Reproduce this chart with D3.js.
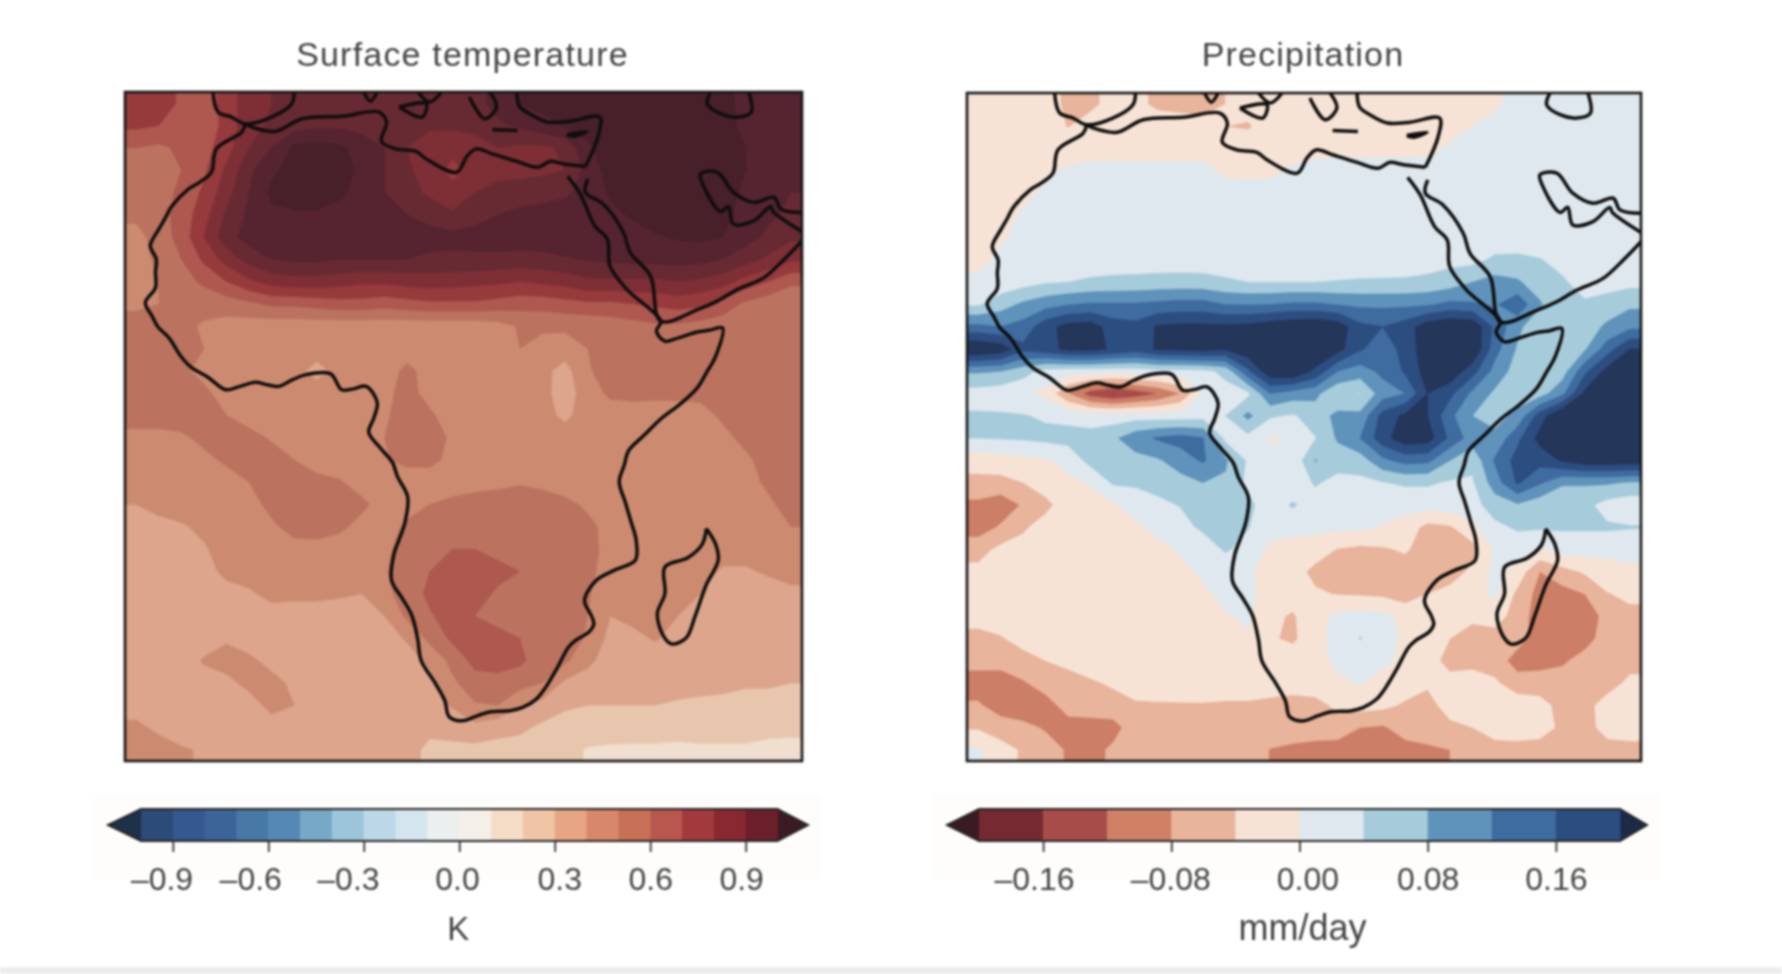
<!DOCTYPE html>
<html><head><meta charset="utf-8">
<script src="https://cdn.jsdelivr.net/npm/d3@7/dist/d3.min.js"></script>
<style>html,body{margin:0;background:#fff}svg{display:block;filter:blur(.8px)}
text{font-family:"Liberation Sans",Arial,sans-serif;fill:#444}</style></head><body>
<svg id="c" width="1782" height="974"></svg>
<script>
const titles=["Surface temperature","Precipitation"];
const units=["K","mm/day"];
// Surface temperature anomaly, hundredths of K, 30x30 grid, north to south
const tempField=[
[78,76,68,62,76,84,90,94,95,95,95,95,95,95,95,96,104,111,113,113,113,113,113,113,113,113,112,108,108,108],
[72,70,66,62,74,86,92,96,98,98,96,94,92,92,92,94,98,102,106,111,114,114,114,114,114,114,113,108,106,106],
[60,58,62,66,76,90,100,112,114,112,106,100,90,84,82,84,90,88,88,92,108,115,115,115,115,115,113,110,104,104],
[56,55,60,68,82,98,108,114,116,114,108,100,92,84,78,82,84,86,88,90,104,114,116,116,116,116,116,110,104,102],
[55,56,62,72,86,100,112,114,114,112,106,100,94,88,82,90,96,96,96,98,104,111,116,116,116,116,114,108,104,100],
[52,56,64,76,92,102,108,109,109,106,104,103,100,96,92,96,100,102,104,106,106,108,111,115,116,116,113,106,102,98],
[47,54,64,80,96,104,106,106,106,105,105,104,103,104,103,104,106,106,106,106,106,106,107,109,111,112,110,104,98,92],
[46,52,60,72,84,94,100,102,102,100,100,100,100,98,98,98,97,96,97,99,101,102,103,103,104,103,100,94,88,82],
[47,50,56,62,70,78,84,86,86,84,82,82,84,85,84,83,82,80,82,84,88,88,88,88,90,88,84,76,70,62],
[48,50,52,53,55,58,62,62,64,66,66,64,66,68,68,68,66,64,64,66,68,68,70,72,74,72,66,58,54,52],
[54,54,52,49,46,45,44,44,44,44,44,44,44,44,44,44,46,51,52,52,52,54,56,58,58,56,54,54,54,54],
[54,54,53,50,46,45,44,44,44,44,44,44,46,44,44,44,44,50,46,45,50,54,56,56,56,55,54,54,54,54],
[55,55,52,47,44,44,43,43,37,43,44,46,52,47,44,44,44,44,43,36,49,54,55,55,55,55,55,55,55,55],
[56,56,55,52,46,44,44,44,44,44,44,47,54,46,44,44,44,44,43,35,45,52,53,53,53,53,54,55,56,56],
[56,56,56,54,50,46,44,44,44,44,44,48,56,52,44,44,44,44,43,38,44,45,45,44,44,46,52,55,56,56],
[46,46,48,53,55,53,49,44,44,44,44,50,55,56,48,44,44,44,44,44,44,44,44,44,44,44,47,53,56,56],
[44,44,44,47,52,54,54,50,44,44,44,49,53,53,47,44,44,44,44,44,44,44,44,44,44,44,44,48,54,56],
[44,44,44,44,45,50,55,56,54,51,46,44,44,44,44,46,47,49,47,44,44,44,44,44,44,44,44,46,52,56],
[40,42,44,44,44,46,53,57,58,56,52,46,46,50,53,55,56,56,56,53,48,44,44,44,44,44,44,44,48,54],
[37,38,39,42,44,44,48,54,55,52,47,45,52,55,56,57,57,57,57,56,53,46,44,44,44,44,44,44,45,50],
[36,36,37,39,44,44,44,46,46,45,44,48,54,58,60,60,58,57,56,56,54,46,44,44,44,44,43,43,44,46],
[36,36,36,37,42,43,44,44,44,44,44,49,56,60,63,64,62,60,57,56,53,45,44,44,44,43,39,39,41,43],
[35,35,35,35,37,39,42,42,42,41,40,47,55,62,65,63,59,56,56,55,51,44,44,44,44,40,36,36,36,38],
[35,35,35,35,35,36,37,36,36,36,36,40,52,59,64,60,58,57,56,55,50,40,43,44,40,36,35,35,35,35],
[35,35,35,35,39,35,35,35,35,35,36,36,41,53,62,64,62,60,56,54,49,37,37,41,36,35,35,35,35,35],
[35,35,35,41,43,42,37,35,35,35,35,35,36,42,53,63,65,62,55,52,42,36,35,35,35,35,35,35,35,35],
[35,35,35,36,38,42,43,38,35,35,35,35,35,37,48,56,56,54,50,38,36,35,35,35,33,33,32,31,31,30],
[36,35,35,35,35,37,42,40,35,35,35,35,35,35,41,49,50,41,36,31,30,30,30,30,29,28,28,27,27,26],
[42,38,35,35,35,35,37,36,35,35,35,35,34,32,33,37,33,32,28,27,26,26,25,25,25,25,25,25,24,24],
[46,44,41,39,37,36,35,35,35,35,35,35,33,28,28,27,27,26,25,24,19,18,18,18,17,18,18,18,16,15]
];
// Precipitation anomaly, thousandths of mm/day
const precipField=[
[-20,-20,-20,-20,-50,-50,-25,-30,-48,-50,-50,-40,-22,-25,-15,-15,-15,-15,-15,-15,-15,-15,-12,-5,10,15,15,15,15,15],
[-20,-20,-20,-20,-42,-20,-25,-15,-20,-25,-30,-40,-45,-20,-12,-12,-12,-12,-12,-12,-12,-6,0,10,15,15,15,15,15,15],
[-20,-20,-20,-20,-15,-15,-15,-15,-15,-15,-15,-15,-12,-12,-10,-10,-10,-10,-10,-10,-8,3,15,15,15,15,15,15,15,15],
[-20,-20,-12,-6,4,12,12,12,12,12,12,-8,-10,-8,4,10,15,15,15,15,15,15,15,15,15,15,15,15,15,15],
[-20,-15,-6,5,15,15,15,15,15,15,15,15,15,15,15,15,15,15,15,15,15,15,15,15,15,15,15,15,15,15],
[-20,-10,3,15,15,15,15,15,15,15,15,15,15,15,15,15,15,15,15,15,15,15,15,15,15,15,15,15,15,15],
[-15,-3,8,15,15,15,15,15,15,15,15,15,15,15,15,15,15,15,15,15,15,15,15,15,15,15,15,15,15,15],
[-8,5,18,18,18,18,18,18,18,18,18,18,18,18,18,18,18,18,18,18,22,28,28,48,50,42,28,18,18,18],
[6,15,25,36,40,46,50,52,55,56,55,46,40,40,40,40,42,44,45,46,50,60,80,95,85,60,45,25,25,28],
[35,62,88,105,118,125,125,125,130,135,135,120,118,120,127,127,118,112,112,112,115,130,125,115,150,85,40,45,55,72],
[130,120,135,185,215,220,180,172,205,210,210,208,212,225,235,240,225,170,160,180,225,240,235,150,90,50,40,58,88,110],
[240,225,170,185,210,212,195,180,205,210,215,205,230,245,245,240,215,165,135,175,225,245,240,135,75,55,45,75,140,200],
[85,80,55,25,18,18,15,18,25,25,28,50,150,230,240,190,120,100,130,165,220,230,175,105,62,55,60,150,215,240],
[22,15,8,-10,-80,-140,-165,-145,-120,-80,8,25,30,120,100,90,45,38,100,120,200,170,110,72,60,62,110,210,240,250],
[45,45,42,35,28,20,18,22,20,20,25,40,90,45,35,60,90,90,175,210,200,130,80,65,90,180,245,250,250,250],
[40,42,45,50,55,55,72,105,125,135,122,30,28,-5,3,38,85,120,185,225,220,150,100,90,150,215,250,250,250,250],
[-25,-18,-12,-5,10,55,60,65,75,100,125,85,35,15,10,82,60,60,110,135,130,80,50,125,175,175,205,225,225,225],
[-50,-52,-40,-22,-8,2,45,48,55,65,80,75,30,12,10,45,25,30,38,45,45,35,35,100,165,125,85,85,85,75],
[-90,-105,-75,-50,-20,-10,-5,10,30,42,60,80,50,18,45,20,15,15,15,15,15,20,25,60,75,55,50,50,25,15],
[-100,-75,-45,-25,-22,-20,-15,-5,8,25,48,62,42,15,12,10,8,8,-3,-18,-52,-45,-10,30,45,45,45,45,45,42],
[-55,-30,-28,-25,-22,-22,-20,-18,-8,3,15,45,25,-10,-15,-22,-42,-50,-45,-35,-60,-65,-55,5,18,-5,15,15,15,15],
[-30,-30,-28,-28,-26,-25,-24,-20,-14,-8,5,12,10,-25,-25,-50,-60,-65,-62,-60,-70,-62,-30,10,-15,-80,-55,-35,-20,-10],
[-25,-25,-25,-25,-25,-25,-25,-25,-25,-24,-5,8,10,-18,-20,-35,-42,-45,-48,-62,-40,-25,-15,8,-50,-95,-95,-80,-42,-32],
[-28,-28,-28,-28,-27,-26,-25,-25,-25,-25,-22,-3,6,-30,-45,-12,8,15,10,-10,-25,-30,-35,-20,-60,-100,-110,-115,-60,-50],
[-50,-42,-32,-30,-28,-26,-25,-22,-22,-22,-22,-20,-5,-35,-48,-12,12,42,20,-8,-15,-40,-50,-60,-62,-100,-110,-105,-50,-45],
[-65,-62,-48,-40,-35,-32,-28,-25,-25,-24,-24,-22,-20,-20,-15,-10,5,8,5,-6,-28,-50,-50,-55,-100,-100,-90,-55,-50,-48],
[-100,-105,-85,-58,-48,-42,-38,-33,-30,-28,-26,-25,-25,-22,-18,-15,-5,2,-10,-22,-35,-30,-25,-35,-60,-55,-50,-50,-50,-35],
[-75,-100,-110,-100,-60,-50,-46,-42,-42,-42,-42,-44,-44,-50,-60,-55,-30,-25,-30,-45,-52,-25,-20,-20,-20,-30,-50,-48,-30,-22],
[-45,-60,-68,-85,-100,-105,-100,-50,-50,-50,-50,-50,-50,-50,-55,-58,-62,-80,-85,-62,-55,-48,-40,-28,-25,-30,-45,-50,-30,-25],
[5,-25,-45,-60,-85,-100,-70,-55,-50,-48,-48,-48,-52,-82,-90,-95,-95,-95,-92,-95,-88,-80,-55,-50,-50,-50,-50,-50,-50,-50]
];
const tempLevels=[0,10,20,30,40,50,60,70,80,90,100,110];
const tempLevelColors=["#f6ede4","#f0dfcf","#e8c6ae","#dca58c","#cc8b70","#bb735f","#ae5850","#963a3c","#7e2f36","#682a32","#552430","#47202a"];
const precipLevels=[-200,-160,-120,-80,-40,0,40,80,120,160,200];
const precipLevelColors=["#7b2d33","#a84c4a","#cc7e66","#e8b49b","#f6e3d6","#dfe8ee","#a6cbdb","#5f93bb","#3e6ba0","#2c4d7f","#24365a"];
const tempBarEdges=[-1,-.9,-.8,-.7,-.6,-.5,-.4,-.3,-.2,-.1,0,.1,.2,.3,.4,.5,.6,.7,.8,.9,1];
const tempBarColors=["#2d4b78","#34588f","#3c6498","#4878a5","#5588b5","#78a8c8","#9cc5dc","#bcd8e6","#d5e5ee","#ecefef","#f5efe9","#f5dcc6","#f0c5a5","#e8a583","#d9876a","#c77055","#b9574e","#a23a3d","#88282f","#6a1f2b"];
const precipBarEdges=[-.2,-.16,-.12,-.08,-.04,0,.04,.08,.12,.16,.2];
const precipBarColors=["#742a30","#a84c4a","#cf8065","#e8b49b","#f6e3d6","#dfe8ee","#a6cbdb","#5f93bb","#3e6ba0","#2c4d7f"];
const tempTicks=[-.9,-.6,-.3,0,.3,.6,.9];
const precipTicks=[-.16,-.08,0,.08,.16];
const tempTickNudge=[-10,-16,-14,-2,4,0,-4];
const precipTickNudge=[-8,-1,7,0,0];
// Coastlines, [lon, lat]
const coastAfrica=[[-5.8,36.2],[-6.2,35.2],[-9.2,33.2],[-9.8,30.4],[-11.2,29.2],[-12.5,28.4],[-14.5,26.3],[-15.2,25],[-16,23.6],[-17,21.6],[-16.3,20],[-16.4,18.5],[-16.4,16.6],[-17.6,14.8],[-16.8,13.2],[-16.1,11.9],[-14.8,10.6],[-13.4,8.4],[-12.2,7.1],[-10.2,5.9],[-8.1,4.4],[-6.4,4.8],[-4.6,5.3],[-3.2,5],[-1.8,4.8],[-.2,5.6],[1.4,6.2],[4.3,6.3],[5.6,4.4],[7,4.5],[8.5,4.8],[9.8,2.9],[9.4,1],[8.8,-.7],[10.2,-2.6],[11.6,-4.3],[12.2,-6],[13.4,-8.4],[13.1,-11.4],[12.4,-13.5],[11.8,-15.2],[11.5,-18.4],[12.8,-20.6],[13.9,-22.6],[14.6,-25.5],[15,-28],[16.6,-30.6],[17.8,-32.8],[18.3,-34.7],[19.9,-35.2],[21.6,-34.6],[23.2,-34.1],[25.5,-34],[27,-33.6],[28.6,-32.6],[29.7,-31.2],[31,-29],[32.4,-26.4],[33.2,-25.6],[34.9,-24.5],[35.4,-23.6],[35.1,-22.6],[34.3,-20.8],[35.7,-18.4],[37.8,-17.2],[40.3,-16],[40.4,-13.6],[39.8,-11.4],[39.1,-9],[38.4,-6.6],[39,-4.6],[39.5,-2.9],[41.4,-1],[43.3,.9],[45.5,2.6],[47.6,4.6],[48.8,6.6],[49.8,8.4],[50.6,11.8],[49,11.5],[47.6,11.3],[45.4,10.6],[43.8,10.2],[42.8,11.4],[43.3,12.6],[39.3,16.4],[37.3,19.2],[37,22.4],[35.5,24],[33.8,27.8],[32.3,29.9]];
const coastMaghreb=[[34.4,31.1],[31.8,31.4],[30.2,31.7],[28.8,31],[26.3,31.7],[23.4,32.6],[21.5,33.2],[20.4,32.3],[19.2,30.4],[15.6,32],[14.4,32.9],[12,33.2],[10.3,34.1],[10.9,36.4],[10,37.6],[5.7,37.1],[.9,36.8],[-2.2,35.3],[-5,35.8],[-5.8,36.2]];
const coastArabia=[[34.7,29.6],[34.4,28],[36.5,26.6],[38.9,23.2],[39.7,20.8],[42.1,18],[43.3,12.6],[47.7,14],[50,15],[52.4,16.4],[55.5,17.8],[57.9,20],[60,22.2]];
const coastGulf=[[60,23.3],[56.6,25.7],[56.3,26.3],[54.3,24.6],[51.9,24.2],[51.3,26.3],[50.4,25.7],[48.4,28.7],[48,30.2],[50,30.4],[51.9,28],[54.3,26.8],[56.7,27.4],[57.5,26],[60,25.6]];
const coastLevant=[[34.4,31.1],[35.9,34.7],[36.1,37],[32.6,36.5],[29.9,36.4],[27.8,37.4],[26.6,38.3],[26.3,40]];
const coastIberia=[[-9.6,40],[-9,37.6],[-7.4,37],[-5.8,36.2],[-2.7,37],[-.3,38.6],[0,40]];
const coastSicily=[[12.4,38.2],[15.6,38.6],[15.1,37],[12.4,38.2]];
const coastItaly=[[14.6,40],[16,38.8],[17.4,40]];
const coastGreece=[[20.7,39.4],[22.5,36.8],[23.9,38.2],[23.1,40]];
const coastCrete=[[23.4,35.5],[26.4,35.4]];
const coastCyprus=[[32.2,34.9],[34.6,35.3],[33,34.7],[32.2,34.9]];
const coastCaspian=[[49.2,40],[48.8,38.6],[50.4,37.4],[52.4,37],[54,37.6],[53.7,40]];
const coastSardinia=[[8.2,40],[9,38.9],[9.8,40]];
const coastMadagascar=[[48.7,-12.2],[49.8,-14.1],[50.1,-16],[48.7,-18.9],[47.4,-22.6],[46.3,-25.3],[44.6,-26],[43.6,-25],[42.9,-22.4],[43.8,-20],[43.8,-16.8],[46.5,-15.7],[48.2,-14.1],[48.7,-12.2]];
const coasts=[coastAfrica,coastMaghreb,coastArabia,coastGulf,coastLevant,coastIberia,coastSicily,coastItaly,coastGreece,coastCrete,coastCyprus,coastCaspian,coastSardinia,coastMadagascar];

const n=30,svg=d3.select("#c");
[tempField,precipField].forEach((f,k)=>f.forEach((r,i)=>{if(r.length!==n)throw new Error("field "+k+" row "+i+" len "+r.length)}));
if(tempField.length!==n||precipField.length!==n)throw new Error("rows");
svg.append("rect").attr("y",967).attr("width",1782).attr("height",7).attr("fill","#eceded");
const padded=f=>{const r=[f[0],...f,f[n-1]];return r.flatMap(row=>[row[0],...row,row[n-1]]);};
const panels=[
 {x0:125,x1:802,y0:92,y1:761,field:tempField,levels:tempLevels,colors:tempLevelColors,
  bar:{x0:141,x1:777.5,tl:108,tr:808,edges:tempBarEdges,colors:tempBarColors,ticks:tempTicks,nudge:tempTickNudge,tipL:"#1f3049",tipR:"#3a1b23",fmt:d3.format(".1f")}},
 {x0:967,x1:1641,y0:93,y1:761,field:precipField,levels:precipLevels,colors:precipLevelColors,
  bar:{x0:979,x1:1620,tl:947,tr:1647,edges:precipBarEdges,colors:precipBarColors,ticks:precipTicks,nudge:precipTickNudge,tipL:"#3a1b23",tipR:"#1b2a47",fmt:d3.format(".2f")}}
];
panels.forEach((p,i)=>{
 const gx=d3.scaleLinear([1,n+1],[p.x0,p.x1]),gy=d3.scaleLinear([1,n+1],[p.y0,p.y1]);
 const lon=d3.scaleLinear([-20,60],[p.x0,p.x1]),lat=d3.scaleLinear([40,-40],[p.y0,p.y1]);
 const clipId="clip"+i;
 svg.append("clipPath").attr("id",clipId).append("rect").attr("x",p.x0).attr("y",p.y0).attr("width",p.x1-p.x0).attr("height",p.y1-p.y0);
 const g=svg.append("g").attr("clip-path",`url(#${clipId})`);
 g.append("rect").attr("x",p.x0).attr("y",p.y0).attr("width",p.x1-p.x0).attr("height",p.y1-p.y0).attr("fill",p.colors[0]);
 const path=d3.geoPath(d3.geoTransform({point(x,y){this.stream.point(gx(x),gy(y))}}));
 const contours=d3.contours().size([n+2,n+2]).thresholds(p.levels)(padded(p.field));
 g.selectAll("path.band").data(contours).join("path").attr("class","band").attr("d",path)
  .attr("fill",(d,j)=>p.colors[j]).attr("stroke",(d,j)=>p.colors[j]).attr("stroke-width",.5);
 const line=d3.line().x(d=>lon(d[0])).y(d=>lat(d[1])).curve(d3.curveCatmullRom.alpha(.5));
 g.selectAll("path.coast").data(coasts).join("path").attr("class","coast").attr("d",line)
  .attr("fill","none").attr("stroke","#0e0e0e").attr("stroke-width",3.5).attr("stroke-linejoin","round");
 svg.append("rect").attr("x",p.x0).attr("y",p.y0).attr("width",p.x1-p.x0).attr("height",p.y1-p.y0)
  .attr("fill","none").attr("stroke","#151515").attr("stroke-width",2.6);
 svg.append("text").attr("x",(p.x0+p.x1)/2-1).attr("y",66).attr("text-anchor","middle")
  .attr("font-size",34).attr("letter-spacing",1.2).text(titles[i]);
 // colour bar
 const b=p.bar,ytop=809,ybot=841,ymid=825;
 const sx=d3.scaleLinear([b.edges[0],b.edges[b.edges.length-1]],[b.x0,b.x1]);
 svg.append("rect").attr("x",b.tl-14).attr("y",ytop-15).attr("width",b.tr-b.tl+28).attr("height",85).attr("fill","#fefdfc");
 svg.append("path").attr("d",`M${b.x0},${ytop}L${b.tl},${ymid}L${b.x0},${ybot}Z`).attr("fill",b.tipL);
 svg.append("path").attr("d",`M${b.x1},${ytop}L${b.tr},${ymid}L${b.x1},${ybot}Z`).attr("fill",b.tipR);
 svg.selectAll(null).data(b.colors).join("rect").attr("x",(d,j)=>sx(b.edges[j])).attr("y",ytop)
  .attr("width",(d,j)=>sx(b.edges[j+1])-sx(b.edges[j])+.5).attr("height",ybot-ytop).attr("fill",d=>d);
 svg.append("path").attr("d",`M${b.x0},${ytop}H${b.x1}L${b.tr},${ymid}L${b.x1},${ybot}H${b.x0}L${b.tl},${ymid}Z`)
  .attr("fill","none").attr("stroke","#262626").attr("stroke-width",2);
 const ax=svg.append("g").attr("transform",`translate(0,${ybot})`)
  .call(d3.axisBottom(sx).tickValues(b.ticks).tickSize(11).tickPadding(15).tickFormat(d=>b.fmt(d).replace("-","\u2013").replace("\u2212","\u2013")));
 ax.select(".domain").remove();
 ax.selectAll("line").attr("stroke","#333").attr("stroke-width",1.8);
 ax.selectAll("text").attr("font-size",32).attr("font-family",'"Liberation Sans",sans-serif').attr("fill","#555")
  .attr("dx",(d,j)=>b.nudge[j]*1.13);
 svg.append("text").attr("x",sx(0)+(i?3:-1)).attr("y",940).attr("text-anchor","middle").attr("font-size",i?36:33).attr("fill","#555").text(units[i]);
});
</script></body></html>
